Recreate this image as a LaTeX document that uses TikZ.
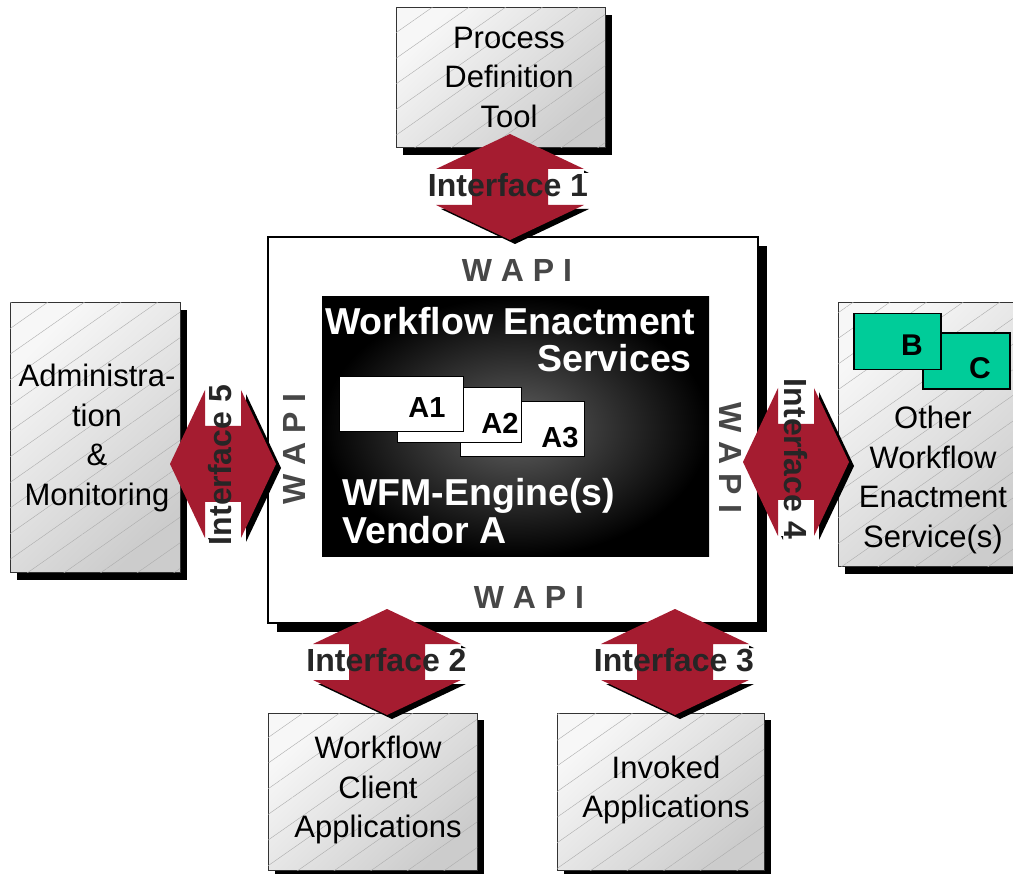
\documentclass[tikz,border=0pt]{standalone}
\usepackage{fontspec}
\setmainfont{Liberation Sans}
\usetikzlibrary{shadows}
\usetikzlibrary{patterns.meta}
\usetikzlibrary{positioning}
\definecolor{ifred}{RGB}{165,28,48}
\definecolor{wesgreen}{RGB}{0,204,153}

\tikzset{
  greybox/.style={draw=black!80, line width=1pt, top color=gray!6, bottom color=gray!40, shading angle=45,
    drop shadow={shadow xshift=7pt, shadow yshift=-7pt, fill=black, opacity=1},
    postaction={pattern color=gray!65, pattern={Lines[angle=35,distance=21pt,line width=0.4pt]}}},
  boxtext/.style={align=center, font=\fontsize{31}{39.5}\selectfont},
  ifshape/.style={insert path={(0,-53) -- (74,-18) -- (38,-18) -- (38,18) -- (74,18) -- (0,53)
    -- (-74,18) -- (-38,18) -- (-38,-18) -- (-74,-18) -- cycle}},
  iflabel/.style={text=black!85, inner sep=0, font=\bfseries\fontsize{32}{32}\selectfont},
  wapi/.style={text=black!72, inner sep=0, font=\bfseries\fontsize{32}{32}\selectfont},
}

\begin{document}
\begin{tikzpicture}[x=1pt,y=-1pt,
  mainbox/.style={draw=black, line width=2pt, fill=white,
    drop shadow={shadow xshift=9pt, shadow yshift=-9pt, fill=black, opacity=1}},
  enginebox/.style={inner color=black!62, outer color=black},
  enginetext/.style={text=white, inner sep=0, font=\bfseries\fontsize{37.5}{40}\selectfont},
  abox/.style={draw=black, line width=1pt, fill=white, minimum width=124, minimum height=55},
  alabel/.style={inner sep=0, font=\bfseries\fontsize{29}{30}\selectfont},
  tile/.style={draw=black, line width=1.2pt, fill=wesgreen, minimum width=87, minimum height=56},
]
    \useasboundingbox (0,0) rectangle (1013,874); %picture size of the reference, in pixels
    \fill[white] (0,0) rectangle (1013,874);
    \clip (0,0) rectangle (1013,874);

    %Shape: WAPI frame
    \node[mainbox, minimum width=490, minimum height=386] (wapibox) at (513,430) {};
    %Shape: engine block
    \node[enginebox, minimum width=387, minimum height=260] (engine) at (515.5,427) {};

    %Shape: process instances, back to front
    \node[abox] (a3) at (522.5,429.5) {};
    \node[abox] (a2) at (459.5,415.5) {};
    \node[abox] (a1) at (401.5,404) {};
    \node[alabel] (a3t) at (560,438) {A3};
    \node[alabel] (a2t) at (500,423) {A2};
    \node[alabel] (a1t) at (427,408) {A1};

    % Text Node
    \node[enginetext, anchor=base west] (wes1) at (325,335) {Workflow Enactment};
    \node[enginetext, anchor=base east] (wes2) at (692,372) {Services};
    \node[enginetext, anchor=base west] (wfm1) at (342,506) {WFM-Engine(s)};
    \node[enginetext, anchor=base west] (wfm2) at (342,544) {Vendor A};

    % Text Node
    \node[wapi] (wapit) at (517,270) {W A P I};
    \node[wapi] (wapib) at (529,597) {W A P I};
    \node[wapi, rotate=90] (wapil) at (294,449) {W A P I};
    \node[wapi, rotate=-90] (wapir) at (731,458) {W A P I};

    %Shape: outer components
    \node[greybox, minimum width=209, minimum height=140] (pdt) at (500.5,78) {};
    \node[boxtext] (pdtt) at (509,77) {Process\\Definition\\Tool};
    \node[greybox, minimum width=170, minimum height=270] (adm) at (95,438) {};
    \node[boxtext] (admt) at (97,438) {Administra-\\tion\\\&\\Monitoring};
    \node[greybox, minimum width=209, minimum height=157] (wca) at (372.5,791.5) {};
    \node[boxtext] (wcat) at (378,790) {Workflow\\Client\\Applications};
    \node[greybox, minimum width=207, minimum height=157] (inv) at (660.5,791.5) {};
    \node[boxtext] (invt) at (666,790) {Invoked\\Applications};
    \node[greybox, minimum width=190, minimum height=264] (owe) at (933,435) {};
    \node[tile] (c) at (966.5,361) {};
    \node[tile] (b) at (897.5,341.5) {};
    \node[alabel, font=\bfseries\fontsize{30}{30}\selectfont] (bt) at (912,345) {B};
    \node[alabel, font=\bfseries\fontsize{30}{30}\selectfont] (ct) at (980,368) {C};
    \node[boxtext] (owet) at (933,480) {Other\\Workflow\\Enactment\\Service(s)};

    %Double Arrow: Interface 1
    \fill[black, shift={(515,191)}, ifshape];
    \fill[white, shift={(510,187)}] (-74,-18) rectangle (74,18);
    \fill[ifred, shift={(510,187)}, ifshape];
    \node[iflabel] (if1) at (508,185) {Interface 1};
    %Double Arrow: Interface 2
    \fill[black, shift={(392,666)}, ifshape];
    \fill[white, shift={(387,662)}] (-74,-18) rectangle (74,18);
    \fill[ifred, shift={(387,662)}, ifshape];
    \node[iflabel] (if2) at (386.5,660) {Interface 2};
    %Double Arrow: Interface 3
    \fill[black, shift={(680,666)}, ifshape];
    \fill[white, shift={(675,662)}] (-74,-18) rectangle (74,18);
    \fill[ifred, shift={(675,662)}, ifshape];
    \node[iflabel] (if3) at (674,660) {Interface 3};
    %Double Arrow: Interface 4
    \fill[black, shift={(801,466)}, rotate=90, ifshape];
    \fill[white, shift={(796,462)}, rotate=90] (-74,-18) rectangle (74,18);
    \fill[ifred, shift={(796,462)}, rotate=90, ifshape];
    \node[iflabel, rotate=-90] (if4) at (796,459) {Interface 4};
    %Double Arrow: Interface 5
    \fill[black, shift={(228,468)}, rotate=90, ifshape];
    \fill[white, shift={(223,464)}, rotate=90] (-74,-18) rectangle (74,18);
    \fill[ifred, shift={(223,464)}, rotate=90, ifshape];
    \node[iflabel, rotate=90] (if5) at (220,465) {Interface 5};
\end{tikzpicture}
\end{document}
